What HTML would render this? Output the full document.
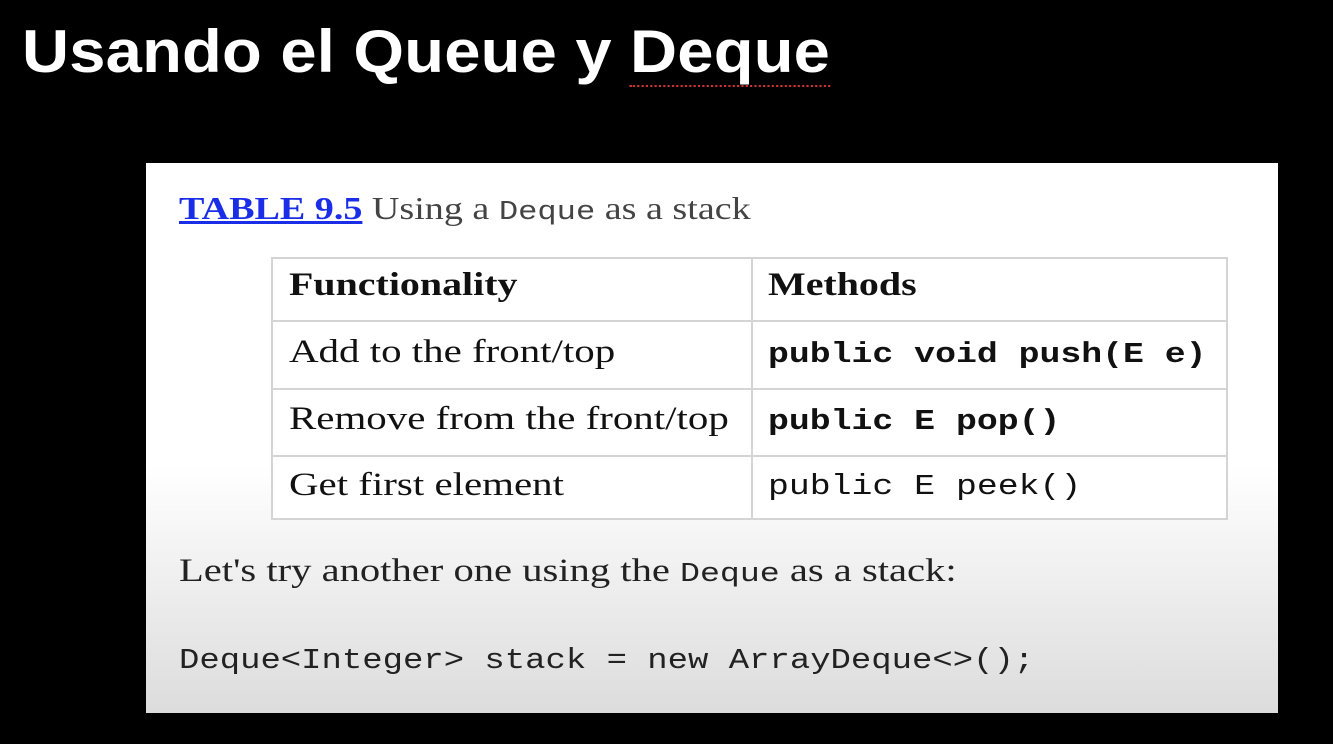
<!DOCTYPE html>
<html><head><meta charset="utf-8"><style>
body{margin:0;width:1333px;height:744px;background:#000;position:relative;overflow:hidden;font-family:"Liberation Serif",serif}
.a{position:absolute;white-space:nowrap;transform-origin:0 0}
.t{font-family:"Liberation Sans",sans-serif;font-weight:bold;color:#fff;font-size:60px;left:22px;top:17px;letter-spacing:0.2px;transform:scaleX(1.085)}
.p{position:absolute;left:146px;top:163px;width:1132px;height:550px;background:linear-gradient(#fff 0,#fff 55%,#dcdcdc 100%)}
.tb{position:absolute;left:271px;top:257px;width:957px;height:263px;border:2px solid #d4d4d4;box-sizing:border-box;background:#fff}
.h{position:absolute;background:#d4d4d4}
.s{font-size:33px;color:#111;transform:scaleX(1.24)}
.m{font-family:"Liberation Mono",monospace;font-size:29px;color:#111;transform:scaleX(1.2)}
.b{font-weight:bold}
</style></head><body>
<div class="a t">Usando el Queue y <span style="border-bottom:2px dotted #c33">Deque</span></div>
<div class="p"></div>
<div class="a" style="left:179px;top:190px;font-size:32px;color:#444;transform:scaleX(1.19)"><span style="color:#1a2ee8;font-weight:bold;text-decoration:underline">TABLE 9.5</span> Using a <span style="font-family:'Liberation Mono',monospace;font-size:27px">Deque</span> as a stack</div>
<div class="tb"></div>
<div class="h" style="left:751px;top:257px;width:2px;height:263px"></div>
<div class="h" style="left:271px;top:320px;width:957px;height:2px"></div>
<div class="h" style="left:271px;top:388px;width:957px;height:2px"></div>
<div class="h" style="left:271px;top:455px;width:957px;height:2px"></div>
<div class="a s b" style="left:289px;top:267px;transform:scaleX(1.21)">Functionality</div>
<div class="a s b" style="left:768px;top:267px;transform:scaleX(1.21)">Methods</div>
<div class="a s" style="left:289px;top:334px">Add to the front/top</div>
<div class="a m b" style="left:768px;top:338px">public void push(E e)</div>
<div class="a s" style="left:289px;top:401px">Remove from the front/top</div>
<div class="a m b" style="left:768px;top:405px">public E pop()</div>
<div class="a s" style="left:289px;top:467px">Get first element</div>
<div class="a m" style="left:768px;top:470px">public E peek()</div>
<div class="a s" style="left:179px;top:553px;color:#222;transform:scaleX(1.23)">Let's try another one using the <span style="font-family:'Liberation Mono',monospace;font-size:27px">Deque</span> as a stack:</div>
<div class="a m" style="left:179px;top:644px;color:#222;font-size:29px;transform:scaleX(1.17)">Deque&lt;Integer&gt; stack = new ArrayDeque&lt;&gt;();</div>
</body></html>
